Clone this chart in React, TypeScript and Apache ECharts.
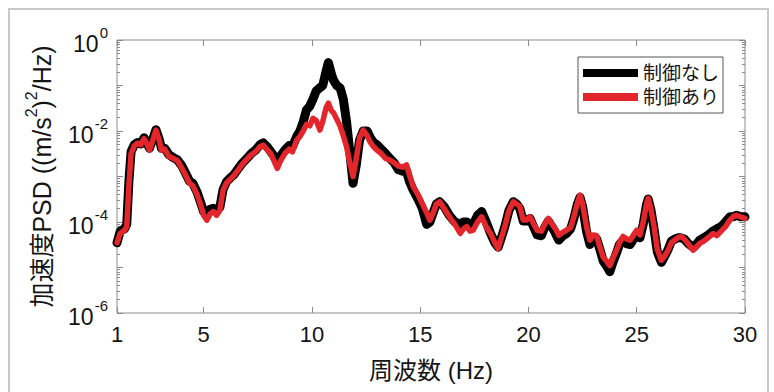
import React, { useEffect, useRef } from "react";
import * as echarts from "echarts";

// Frequency (Hz)
const freq = [
  1.0, 1.15, 1.35, 1.45, 1.55, 1.65, 1.8, 1.95, 2.1, 2.25,
  2.4, 2.5, 2.65, 2.8, 2.95, 3.05, 3.2, 3.4, 3.6, 3.8,
  4.0, 4.2, 4.35, 4.5, 4.7, 4.85, 5.0, 5.15, 5.3, 5.45,
  5.6, 5.75, 5.9, 6.05, 6.25, 6.4, 6.6, 6.8, 7.0, 7.2,
  7.4, 7.6, 7.75, 7.95, 8.1, 8.25, 8.4, 8.55, 8.75, 8.95,
  9.1, 9.3, 9.45, 9.6, 9.75, 9.9, 10.05, 10.2, 10.37, 10.5,
  10.65, 10.76, 10.9, 11.0, 11.15, 11.3, 11.45, 11.6, 11.75, 11.9,
  12.05, 12.2, 12.37, 12.55, 12.7, 12.85, 13.0, 13.2, 13.4, 13.6,
  13.8, 14.0, 14.2, 14.37, 14.5, 14.68, 14.9, 15.1, 15.3, 15.45,
  15.6, 15.75, 15.9, 16.1, 16.35, 16.6, 16.85, 17.0, 17.15, 17.3,
  17.45, 17.65, 17.84, 18.05, 18.25, 18.45, 18.6, 18.75, 18.91, 19.1,
  19.3, 19.45, 19.6, 19.76, 19.9, 20.07, 20.25, 20.4, 20.6, 20.75,
  20.92, 21.1, 21.25, 21.4, 21.6, 21.76, 21.95, 22.1, 22.25, 22.38,
  22.5, 22.68, 22.84, 23.0, 23.15, 23.3, 23.45, 23.6, 23.76, 23.9,
  24.07, 24.2, 24.37, 24.55, 24.7, 24.85, 25.0, 25.15, 25.3, 25.45,
  25.53, 25.65, 25.8, 25.95, 26.14, 26.3, 26.45, 26.6, 26.75, 26.9,
  27.05, 27.2, 27.4, 27.6, 27.75, 27.91, 28.1, 28.3, 28.52, 28.7,
  28.9, 29.1, 29.3, 29.45, 29.6, 29.8, 30.0,
];

// 制御なし (no control) PSD
const psdNoControl = [
  3.5e-5, 6.3e-5, 7.1e-5, 8.9e-5, 7.9e-4, 3.5e-3, 5.0e-3, 5.6e-3, 5.2e-3, 7.1e-3,
  5.2e-3, 4.2e-3, 6.6e-3, 1.07e-2, 6.6e-3, 4.2e-3, 4.2e-3, 3.0e-3, 2.6e-3, 2.3e-3,
  1.7e-3, 1.1e-3, 7.9e-4, 7.1e-4, 4.5e-4, 2.8e-4, 1.7e-4, 1.4e-4, 1.9e-4, 2.0e-4,
  1.8e-4, 2.1e-4, 5.2e-4, 7.6e-4, 9.5e-4, 1.1e-3, 1.5e-3, 2.0e-3, 2.5e-3, 3.2e-3,
  3.8e-3, 5.0e-3, 5.5e-3, 4.4e-3, 3.5e-3, 2.8e-3, 2.1e-3, 2.8e-3, 3.8e-3, 4.8e-3,
  4.5e-3, 7.6e-3, 1.0e-2, 1.6e-2, 2.9e-2, 3.5e-2, 5.0e-2, 7.6e-2, 8.9e-2, 1.0e-1,
  2.0e-1, 3.2e-1, 1.8e-1, 1.3e-1, 1.0e-1, 8.9e-2, 5.0e-2, 1.6e-2, 3.5e-3, 7.1e-4,
  1.8e-3, 6.3e-3, 1.0e-2, 1.0e-2, 7.1e-3, 5.6e-3, 5.0e-3, 4.0e-3, 3.2e-3, 2.5e-3,
  2.0e-3, 1.4e-3, 1.3e-3, 1.3e-3, 7.9e-4, 5.0e-4, 3.2e-4, 2.0e-4, 8.9e-5, 1.0e-4,
  1.6e-4, 2.5e-4, 2.8e-4, 2.2e-4, 1.4e-4, 1.0e-4, 8.9e-5, 1.0e-4, 1.0e-4, 8.9e-5,
  8.9e-5, 1.4e-4, 1.7e-4, 1.0e-4, 5.6e-5, 3.5e-5, 2.8e-5, 4.5e-5, 7.9e-5, 1.8e-4,
  2.8e-4, 2.5e-4, 2.0e-4, 1.05e-4, 1.05e-4, 1.2e-4, 7.6e-5, 5.2e-5, 5.0e-5, 7.6e-5,
  1.05e-4, 7.6e-5, 5.6e-5, 4.0e-5, 5.0e-5, 5.6e-5, 7.1e-5, 1.2e-4, 2.4e-4, 3.5e-4,
  2.2e-4, 6.3e-5, 3.2e-5, 4.5e-5, 4.2e-5, 2.5e-5, 1.4e-5, 1.1e-5, 8.1e-6, 1.3e-5,
  2.1e-5, 3.2e-5, 4.0e-5, 3.3e-5, 3.2e-5, 4.2e-5, 5.2e-5, 4.5e-5, 8.9e-5, 2.4e-4,
  3.2e-4, 1.9e-4, 7.1e-5, 2.2e-5, 1.3e-5, 1.8e-5, 2.5e-5, 3.8e-5, 4.2e-5, 4.5e-5,
  4.5e-5, 4.2e-5, 3.3e-5, 2.8e-5, 3.2e-5, 4.0e-5, 4.5e-5, 5.2e-5, 6.3e-5, 7.1e-5,
  7.9e-5, 1.0e-4, 1.3e-4, 1.3e-4, 1.4e-4, 1.3e-4, 1.3e-4,
];

// 制御あり (with control) PSD
const psdControl = [
  3.5e-5, 5.6e-5, 6.6e-5, 7.9e-5, 6.3e-4, 3.2e-3, 4.7e-3, 5.4e-3, 5.0e-3, 6.8e-3,
  5.0e-3, 3.8e-3, 6.3e-3, 1.05e-2, 6.3e-3, 3.8e-3, 4.0e-3, 2.75e-3, 2.5e-3, 2.2e-3,
  1.5e-3, 1.0e-3, 7.1e-4, 6.3e-4, 4.0e-4, 2.5e-4, 1.4e-4, 1.1e-4, 1.5e-4, 1.7e-4,
  1.4e-4, 1.8e-4, 5.0e-4, 7.1e-4, 8.9e-4, 1.05e-3, 1.4e-3, 1.9e-3, 2.4e-3, 3.0e-3,
  3.5e-3, 4.5e-3, 4.9e-3, 3.8e-3, 3.2e-3, 2.2e-3, 1.5e-3, 2.2e-3, 3.2e-3, 4.0e-3,
  3.5e-3, 6.3e-3, 7.6e-3, 1.0e-2, 1.4e-2, 1.3e-2, 1.9e-2, 1.7e-2, 1.05e-2, 1.6e-2,
  3.2e-2, 4.1e-2, 2.8e-2, 2.5e-2, 1.8e-2, 1.3e-2, 7.9e-3, 4.5e-3, 2.0e-3, 1.0e-3,
  2.5e-3, 7.1e-3, 1.05e-2, 7.9e-3, 5.6e-3, 4.5e-3, 3.8e-3, 3.2e-3, 2.5e-3, 2.3e-3,
  2.0e-3, 1.7e-3, 1.6e-3, 1.8e-3, 1.1e-3, 6.0e-4, 4.0e-4, 2.5e-4, 1.6e-4, 1.1e-4,
  1.6e-4, 2.5e-4, 2.8e-4, 2.0e-4, 1.3e-4, 8.9e-5, 5.6e-5, 7.1e-5, 7.9e-5, 6.3e-5,
  6.6e-5, 1.0e-4, 1.3e-4, 7.9e-5, 5.6e-5, 3.5e-5, 2.6e-5, 4.5e-5, 7.9e-5, 1.8e-4,
  2.8e-4, 2.5e-4, 2.2e-4, 1.1e-4, 1.1e-4, 1.3e-4, 8.9e-5, 6.6e-5, 6.3e-5, 8.9e-5,
  1.2e-4, 8.9e-5, 7.1e-5, 5.1e-5, 6.0e-5, 6.6e-5, 7.6e-5, 1.3e-4, 2.5e-4, 3.9e-4,
  2.5e-4, 7.9e-5, 4.0e-5, 5.2e-5, 5.0e-5, 2.8e-5, 1.7e-5, 1.4e-5, 1.1e-5, 1.6e-5,
  2.4e-5, 3.5e-5, 4.8e-5, 4.2e-5, 4.0e-5, 5.2e-5, 6.6e-5, 5.2e-5, 1.0e-4, 2.5e-4,
  3.3e-4, 2.0e-4, 7.9e-5, 2.5e-5, 1.45e-5, 1.8e-5, 2.4e-5, 3.5e-5, 4.0e-5, 4.5e-5,
  4.8e-5, 4.2e-5, 3.2e-5, 2.4e-5, 2.8e-5, 3.4e-5, 3.8e-5, 4.5e-5, 5.6e-5, 5.0e-5,
  6.3e-5, 7.9e-5, 1.1e-4, 1.3e-4, 1.4e-4, 1.3e-4, 1.2e-4,
];

const seriesNames = ["制御なし", "制御あり"];
const xTickValues = [1, 5, 10, 15, 20, 25, 30];
const yMajorTicks = [1e-6, 1e-5, 1e-4, 1e-3, 1e-2, 1e-1, 1];
const yLabelValues = [1e-6, 1e-4, 1e-2, 1];
const xTitle = "周波数 (Hz)";
const yTitleParts = ["加速度PSD ((m/s", "2", ")", "2", "/Hz)"];

const FONT = "'Liberation Sans', 'Noto Sans CJK JP', sans-serif";
const FRAME = "#8a8a8a";
const TEXT = "#141414";

export default function App() {
  const ref = useRef<HTMLDivElement>(null);

  useEffect(() => {
    if (!ref.current) return;
    const chart = echarts.init(ref.current, undefined, { renderer: "svg" });

    const yMinorTicks: number[] = [];
    for (let i = 0; i < yMajorTicks.length - 1; i++) {
      for (let m = 2; m <= 9; m++) yMinorTicks.push(m * yMajorTicks[i]);
    }

    const xBase = {
      type: "value",
      min: 1,
      max: 30,
      axisLine: { show: false },
      splitLine: { show: false },
      axisTick: {
        inside: true,
        length: 6,
        customValues: xTickValues,
        lineStyle: { color: FRAME, width: 1 },
      },
    };

    const yBase = {
      type: "log",
      logBase: 10,
      min: 1e-6,
      max: 1,
      axisLine: { show: false },
      splitLine: { show: false },
    };

    const labelFormatter = (v: number) => {
      const e = Math.round(Math.log10(v));
      return `{b|10}{s|${e}}`;
    };

    const yTitle =
      `{t|${yTitleParts[0]}}{s|${yTitleParts[1]}}{t|${yTitleParts[2]}}` +
      `{s|${yTitleParts[3]}}{t|${yTitleParts[4]}}`;

    chart.setOption({
      animation: false,
      backgroundColor: "#ffffff",
      grid: {
        left: 117,
        top: 40,
        width: 628,
        height: 273,
        show: true,
        borderColor: FRAME,
        borderWidth: 1,
        backgroundColor: "transparent",
      },
      graphic: [
        {
          type: "rect",
          shape: { x: 9, y: 9, width: 759, height: 400 },
          style: { fill: "none", stroke: "#c9c9c9", lineWidth: 2 },
          silent: true,
        },
      ],
      legend: {
        orient: "vertical",
        left: 578,
        top: 57,
        itemWidth: 55,
        itemHeight: 8,
        itemGap: 4,
        padding: [6, 4, 6, 5],
        backgroundColor: "#ffffff",
        borderColor: "#555555",
        borderWidth: 1,
        selectedMode: false,
        textStyle: { fontSize: 19, color: TEXT, fontFamily: FONT, lineHeight: 20 },
        data: [
          { name: seriesNames[0], icon: "rect", itemStyle: { color: "#000000" } },
          { name: seriesNames[1], icon: "rect", itemStyle: { color: "#e3262c" } },
        ],
      },
      xAxis: [
        {
          ...xBase,
          position: "bottom",
          axisLabel: {
            customValues: xTickValues,
            fontSize: 22,
            color: TEXT,
            fontFamily: FONT,
            margin: 10,
          },
          name: xTitle,
          nameLocation: "middle",
          nameGap: 45,
          nameTextStyle: { fontSize: 24, color: TEXT, fontFamily: FONT },
        },
        {
          ...xBase,
          position: "top",
          axisLabel: { show: false },
        },
      ],
      yAxis: [
        {
          ...yBase,
          position: "left",
          axisTick: {
            inside: true,
            length: 6,
            customValues: yMajorTicks,
            lineStyle: { color: FRAME, width: 1 },
          },
          axisLabel: {
            customValues: yLabelValues,
            formatter: labelFormatter,
            margin: 9,
            rich: {
              b: { fontSize: 23, fontFamily: FONT, color: TEXT, padding: [7, 0, 0, 0], verticalAlign: "bottom" },
              s: { fontSize: 15, fontFamily: FONT, color: TEXT, verticalAlign: "top", padding: [0, 0, 0, 1] },
            },
          },
          name: yTitle,
          nameLocation: "middle",
          nameGap: 63,
          nameTextStyle: {
            rich: {
              t: { fontSize: 25, fontFamily: FONT, color: TEXT, padding: [6, 0, 0, 0], verticalAlign: "bottom" },
              s: { fontSize: 16, fontFamily: FONT, color: TEXT, verticalAlign: "top" },
            },
          },
        },
        {
          ...yBase,
          position: "left",
          axisTick: {
            inside: true,
            length: 3,
            customValues: yMinorTicks,
            lineStyle: { color: FRAME, width: 1 },
          },
          axisLabel: { show: false },
        },
        {
          ...yBase,
          position: "right",
          axisTick: {
            inside: true,
            length: 6,
            customValues: yMajorTicks,
            lineStyle: { color: FRAME, width: 1 },
          },
          axisLabel: { show: false },
        },
        {
          ...yBase,
          position: "right",
          axisTick: {
            inside: true,
            length: 3,
            customValues: yMinorTicks,
            lineStyle: { color: FRAME, width: 1 },
          },
          axisLabel: { show: false },
        },
      ],
      series: [
        {
          name: seriesNames[0],
          type: "line",
          xAxisIndex: 0,
          yAxisIndex: 0,
          data: freq.map((f, i) => [f, psdNoControl[i]]),
          symbol: "none",
          showSymbol: false,
          lineStyle: { color: "#000000", width: 9, join: "round", cap: "round" },
          itemStyle: { color: "#000000" },
          z: 2,
        },
        {
          name: seriesNames[1],
          type: "line",
          xAxisIndex: 0,
          yAxisIndex: 0,
          data: freq.map((f, i) => [f, psdControl[i]]),
          symbol: "none",
          showSymbol: false,
          lineStyle: { color: "#e3262c", width: 5.5, join: "round", cap: "round" },
          itemStyle: { color: "#e3262c" },
          z: 3,
        },
      ],
    });

    return () => chart.dispose();
  }, []);

  return (
    <div
      ref={ref}
      style={{ position: "absolute", left: 0, top: 0, width: 774, height: 392 }}
    />
  );
}
